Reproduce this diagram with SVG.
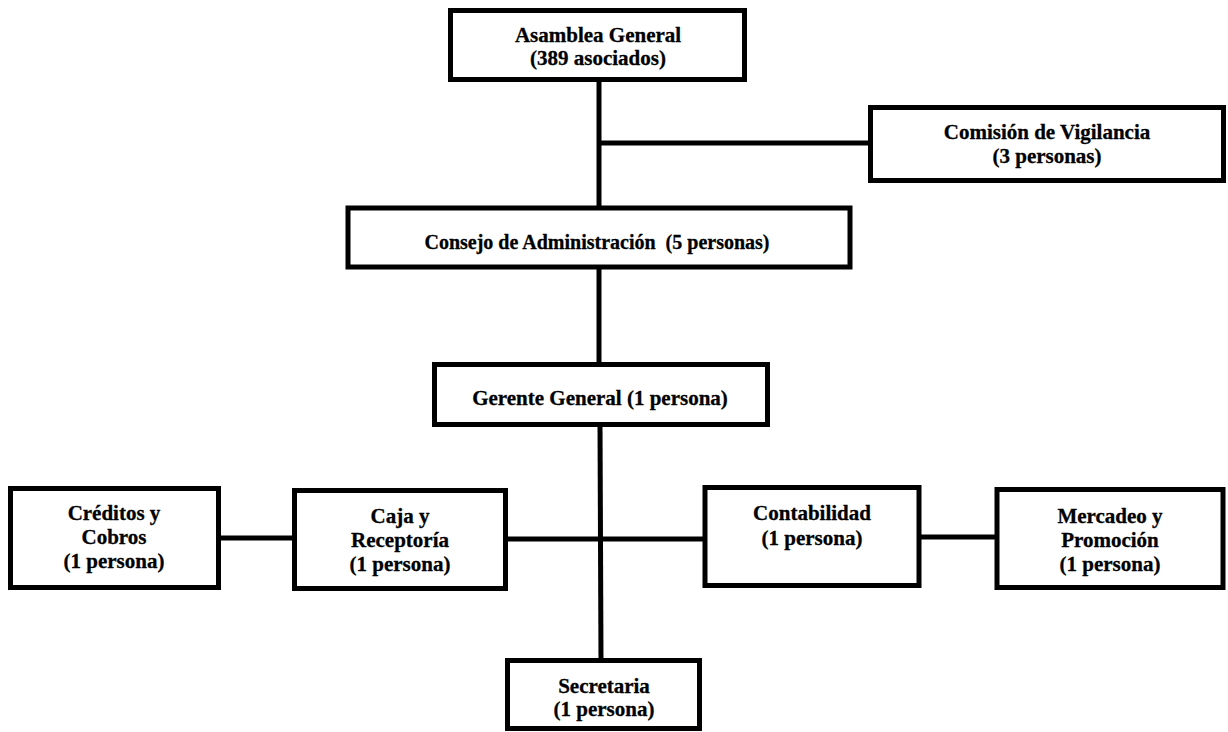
<svg xmlns="http://www.w3.org/2000/svg" width="1228" height="732" viewBox="0 0 1228 732">
<style>
.box{fill:#fff;stroke:#000;stroke-width:5}
.ln{stroke:#000;stroke-width:5;fill:none}
.t text{font-family:"Liberation Serif","Times New Roman",serif;font-weight:700;font-size:21px;text-anchor:middle;fill:#000;stroke:#000;stroke-width:0.3}
.t #consejo text{font-size:20px}
</style>
<rect width="1228" height="732" fill="#fff"/>
<g id="connectors">
<line class="ln" x1="599" y1="80" x2="599" y2="208"/>
<line class="ln" x1="599" y1="143" x2="870" y2="143"/>
<line class="ln" x1="599" y1="268" x2="599" y2="364"/>
<line class="ln" x1="600" y1="425" x2="601" y2="660"/>
<line class="ln" x1="218" y1="538" x2="294" y2="538"/>
<line class="ln" x1="506" y1="539" x2="705" y2="539"/>
<line class="ln" x1="919" y1="537" x2="997" y2="537"/>
</g>
<g class="t">
<g id="asamblea">
<rect class="box" x="450.5" y="10.5" width="294" height="69"/>
<text x="598" y="42">Asamblea General</text>
<text x="598" y="65">(389 asociados)</text>
</g>
<g id="comision">
<rect class="box" x="870.5" y="107.5" width="353" height="73"/>
<text x="1047" y="139">Comisión de Vigilancia</text>
<text x="1047" y="163">(3 personas)</text>
</g>
<g id="consejo">
<rect class="box" x="348" y="208" width="502" height="59"/>
<text x="597" y="249" xml:space="preserve">Consejo de Administración  (5 personas)</text>
</g>
<g id="gerente">
<rect class="box" x="434.5" y="364.5" width="333" height="60"/>
<text x="600" y="405">Gerente General (1 persona)</text>
</g>
<g id="creditos">
<rect class="box" x="10.5" y="488.5" width="208" height="99"/>
<text x="114" y="520">Créditos y</text>
<text x="114" y="544">Cobros</text>
<text x="114" y="568">(1 persona)</text>
</g>
<g id="caja">
<rect class="box" x="294.5" y="490.5" width="211" height="98"/>
<text x="400" y="523">Caja y</text>
<text x="400" y="547">Receptoría</text>
<text x="400" y="571">(1 persona)</text>
</g>
<g id="contabilidad">
<rect class="box" x="705" y="487.5" width="214" height="98"/>
<text x="812" y="520">Contabilidad</text>
<text x="812" y="545">(1 persona)</text>
</g>
<g id="mercadeo">
<rect class="box" x="997" y="489.5" width="226" height="98"/>
<text x="1110" y="523">Mercadeo y</text>
<text x="1110" y="547">Promoción</text>
<text x="1110" y="571">(1 persona)</text>
</g>
<g id="secretaria">
<rect class="box" x="507.5" y="660.5" width="192" height="68"/>
<text x="604" y="693">Secretaria</text>
<text x="604" y="716">(1 persona)</text>
</g>
</g>
</svg>
